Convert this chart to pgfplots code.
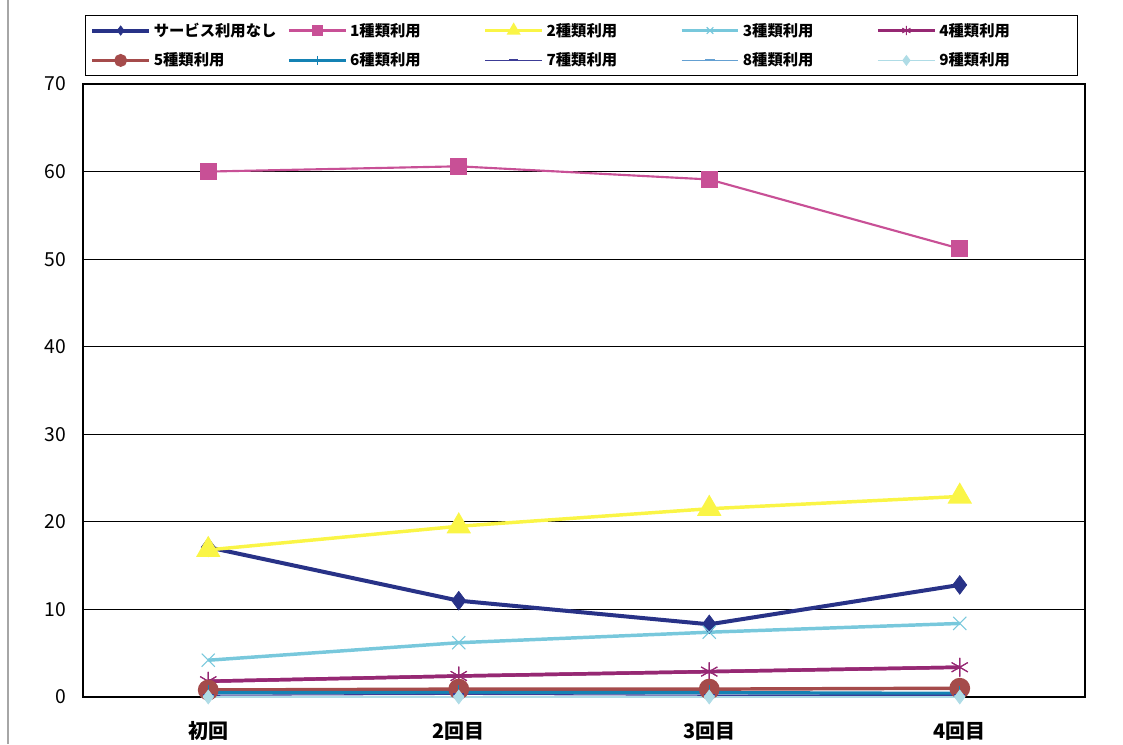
\documentclass[border=0pt]{standalone}
\usepackage{fontspec}
\setmainfont{Noto Sans CJK JP}
\usepackage{pgfplots}
\pgfplotsset{compat=1.18}
\definecolor{cNone}{RGB}{40,50,135}
\definecolor{c1}{RGB}{200,80,150}
\definecolor{c2}{RGB}{250,245,70}
\definecolor{c3}{RGB}{120,200,220}
\definecolor{c4}{RGB}{150,40,115}
\definecolor{c5}{RGB}{165,75,75}
\definecolor{c6}{RGB}{20,130,180}
\definecolor{c7}{RGB}{60,60,150}
\definecolor{c8}{RGB}{100,160,210}
\definecolor{c9}{RGB}{175,220,230}
\begin{document}
\begin{tikzpicture}[x=1pt,y=1pt]
\useasboundingbox (0,0) rectangle (842.25,558);
\draw[gray!70, line width=0.8pt] (6,0) -- (6,558);
\begin{axis}[
  at={(62.25pt,35.25pt)}, anchor=south west,
  scale only axis, width=751.5pt, height=459.75pt,
  xmin=-0.5, xmax=3.5, ymin=0, ymax=70,
  xtick={0,1,2,3}, xticklabels={初回,2回目,3回目,4回目},
  ytick={0,10,...,70},
  ymajorgrids, major grid style={black, line width=0.6pt},
  axis line style={line width=2.2pt},
  tick style={draw=none},
  /pgf/number format/assume math mode=true,
  yticklabel style={font=\fontsize{14.5}{16}\selectfont, xshift=-9pt},
  xticklabel style={font=\bfseries\fontsize{15}{17}\selectfont, yshift=-15pt},
  legend columns=5,
  legend cell align=left,
  legend style={at={(0.002,1.1126)}, anchor=north west, draw=black, line width=0.8pt,
    font=\bfseries\fontsize{11.5}{13}\selectfont,
    nodes={text width=98pt, anchor=west},
    inner sep=3.5pt, row sep=7pt},
  legend image code/.code={\draw[mark repeat=2,mark phase=2,#1,mark size=3.5pt] plot coordinates {(0cm,0cm)(0.75cm,0cm)(1.5cm,0cm)};},
]
\addplot[c4, line width=2.6pt, mark=asterisk, mark size=7pt, mark options={line width=0.8pt}, forget plot] coordinates {(0,1.8)(1,2.4)(2,2.9)(3,3.4)};
\addplot[cNone, line width=3pt, mark=diamond*, mark size=7pt, mark options={line width=0.5pt}] coordinates {(0,17.1)(1,11.0)(2,8.3)(3,12.8)};
\addlegendentry{サービス利用なし}
\addplot[c1, line width=1.6pt, mark=square*, mark size=5.5pt] coordinates {(0,60.0)(1,60.6)(2,59.1)(3,51.2)};
\addlegendentry{1種類利用}
\addplot[c2, line width=2.6pt, mark=triangle*, mark size=8pt] coordinates {(0,16.8)(1,19.5)(2,21.5)(3,22.9)};
\addlegendentry{2種類利用}
\addplot[c3, line width=2.6pt, mark=x, mark size=7pt, mark options={line width=0.8pt}] coordinates {(0,4.2)(1,6.2)(2,7.4)(3,8.4)};
\addlegendentry{3種類利用}
\addplot[c4, line width=2.6pt, mark=asterisk, mark size=7pt, mark options={line width=0.8pt}] coordinates {(0,1.8)(1,2.4)(2,2.9)(3,3.4)};
\addlegendentry{4種類利用}
\addplot[c5, line width=2.6pt, mark=*, mark size=6.5pt] coordinates {(0,0.8)(1,0.9)(2,0.9)(3,1.0)};
\addlegendentry{5種類利用}
\addplot[c6, line width=2.6pt, mark=|, mark size=6pt, mark options={line width=0.8pt}] coordinates {(0,0.5)(1,0.5)(2,0.5)(3,0.4)};
\addlegendentry{6種類利用}
\addplot[c7, line width=0.8pt, mark=-, mark size=4pt, mark options={line width=1.5pt}] coordinates {(0,0.2)(1,0.3)(2,0.2)(3,0.2)};
\addlegendentry{7種類利用}
\addplot[c8, line width=0.8pt, mark=-, mark size=4pt, mark options={line width=1.5pt}] coordinates {(0,0.1)(1,0.1)(2,0.1)(3,0.1)};
\addlegendentry{8種類利用}
\addplot[c9, line width=0.8pt, mark=diamond*, mark size=5pt] coordinates {(0,0.0)(1,0.0)(2,0.0)(3,0.0)};
\addlegendentry{9種類利用}
\end{axis}
\end{tikzpicture}
\end{document}
